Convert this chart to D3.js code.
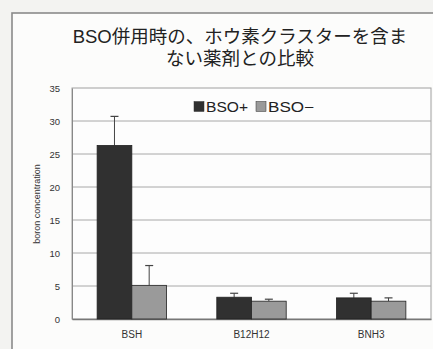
<!DOCTYPE html>
<html><head><meta charset="utf-8">
<script src="https://cdn.jsdelivr.net/npm/d3@7"></script>
<style>body{margin:0;background:#f3f3f1;}svg{display:block;}</style>
</head><body>
<svg id="c" width="433" height="349"></svg>
<script>
const categories = ["BSH", "B12H12", "BNH3"];
const seriesNames = ["BSO+", "BSO\u2212"];
const bsoPlus = [26.3, 3.3, 3.2];
const bsoMinus = [5.1, 2.7, 2.7];
const errPlus = [4.4, 0.6, 0.7];
const errMinus = [3.0, 0.3, 0.5];
const yTicks = [0, 5, 10, 15, 20, 25, 30, 35];
const titleLines = ["BSO併用時の、ホウ素クラスターを含ま", "ない薬剤との比較"];
const yTitle = "boron concentration";
const colors = ["#303030", "#9a9a9a"];

const svg = d3.select("#c");
const font = "'Liberation Sans', Arial, 'Noto Sans CJK JP', sans-serif";
// outer frame
svg.append("rect").attr("x",12).attr("y",13).attr("width",440).attr("height",360)
  .attr("fill","#fcfcfb").attr("stroke","#8a8a8a").attr("stroke-width",1.6);

const m = {l:72, t:88, r:431, b:319};
const x0 = d3.scaleBand().domain(categories).range([m.l, m.r]).paddingInner(0.42).paddingOuter(0.21);
const x1 = d3.scaleBand().domain([0,1]).range([0, x0.bandwidth()]);
const y = d3.scaleLinear().domain([0,35]).range([m.b, m.t]);

// plot area
svg.append("rect").attr("x",m.l).attr("y",m.t).attr("width",m.r-m.l).attr("height",m.b-m.t)
  .attr("fill","#fdfdfd").attr("stroke","#a0a0a0").attr("stroke-width",1);
// gridlines
svg.append("g").selectAll("line").data(yTicks.slice(1,-1)).join("line")
  .attr("x1",m.l).attr("x2",m.r).attr("y1",d=>y(d)).attr("y2",d=>y(d))
  .attr("stroke","#a8a8a8").attr("stroke-width",1);

// y axis
const ya = svg.append("g").attr("transform",`translate(${m.l},0)`)
  .call(d3.axisLeft(y).tickValues(yTicks).tickSize(0).tickPadding(12));
ya.select(".domain").attr("stroke","#888");
ya.selectAll("text").attr("font-family",font).attr("font-size",9.5).attr("fill","#333");
// x axis
const xa = svg.append("g").attr("transform",`translate(0,${m.b})`)
  .call(d3.axisBottom(x0).tickSize(0).tickPadding(12));
xa.select(".domain").attr("stroke","#777").attr("stroke-width",1.3);
xa.selectAll("text").attr("font-family",font).attr("font-size",10).attr("fill","#333");

// bars
const data = categories.map((c,i)=>({c, vals:[
  {s:0, v:bsoPlus[i], e:errPlus[i]}, {s:1, v:bsoMinus[i], e:errMinus[i]}]}));
const g = svg.append("g").selectAll("g").data(data).join("g")
  .attr("transform",d=>`translate(${x0(d.c)},0)`);
g.selectAll("line.err").data(d=>d.vals).join("line").attr("class","err")
  .attr("x1",d=>x1(d.s)+x1.bandwidth()/2).attr("x2",d=>x1(d.s)+x1.bandwidth()/2)
  .attr("y1",d=>y(d.v)).attr("y2",d=>y(d.v+d.e)).attr("stroke","#444").attr("stroke-width",1);
g.selectAll("line.cap").data(d=>d.vals).join("line").attr("class","cap")
  .attr("x1",d=>x1(d.s)+x1.bandwidth()/2-4).attr("x2",d=>x1(d.s)+x1.bandwidth()/2+4)
  .attr("y1",d=>y(d.v+d.e)).attr("y2",d=>y(d.v+d.e)).attr("stroke","#444").attr("stroke-width",1.2);
g.selectAll("rect").data(d=>d.vals).join("rect")
  .attr("x",d=>x1(d.s)).attr("width",x1.bandwidth())
  .attr("y",d=>y(d.v)).attr("height",d=>y(0)-y(d.v))
  .attr("fill",d=>colors[d.s]).attr("stroke","#222").attr("stroke-width",0.8);

// title
svg.append("g").selectAll("text").data(titleLines).join("text")
  .attr("x",240).attr("y",(d,i)=>43+i*22).attr("text-anchor","middle")
  .attr("font-family",font).attr("font-size",18.5).attr("fill","#222").text(d=>d);

// y title
svg.append("text").attr("transform","translate(40,204) rotate(-90)").attr("text-anchor","middle")
  .attr("font-family",font).attr("font-size",9).attr("fill","#333").text(yTitle);

// legend
const leg = svg.append("g");
const lx = [194, 256];
const lw = [42, 46];
seriesNames.forEach((n,i)=>{
  leg.append("rect").attr("x",lx[i]).attr("y",101.5).attr("width",10).attr("height",10)
    .attr("fill",colors[i]).attr("stroke","#333").attr("stroke-width",0.5);
  leg.append("text").attr("x",lx[i]+12).attr("y",112).attr("font-family",font)
    .attr("font-size",14.5).attr("fill","#222")
    .attr("textLength",lw[i]).attr("lengthAdjust","spacingAndGlyphs").text(n);
});
</script>
</body></html>
